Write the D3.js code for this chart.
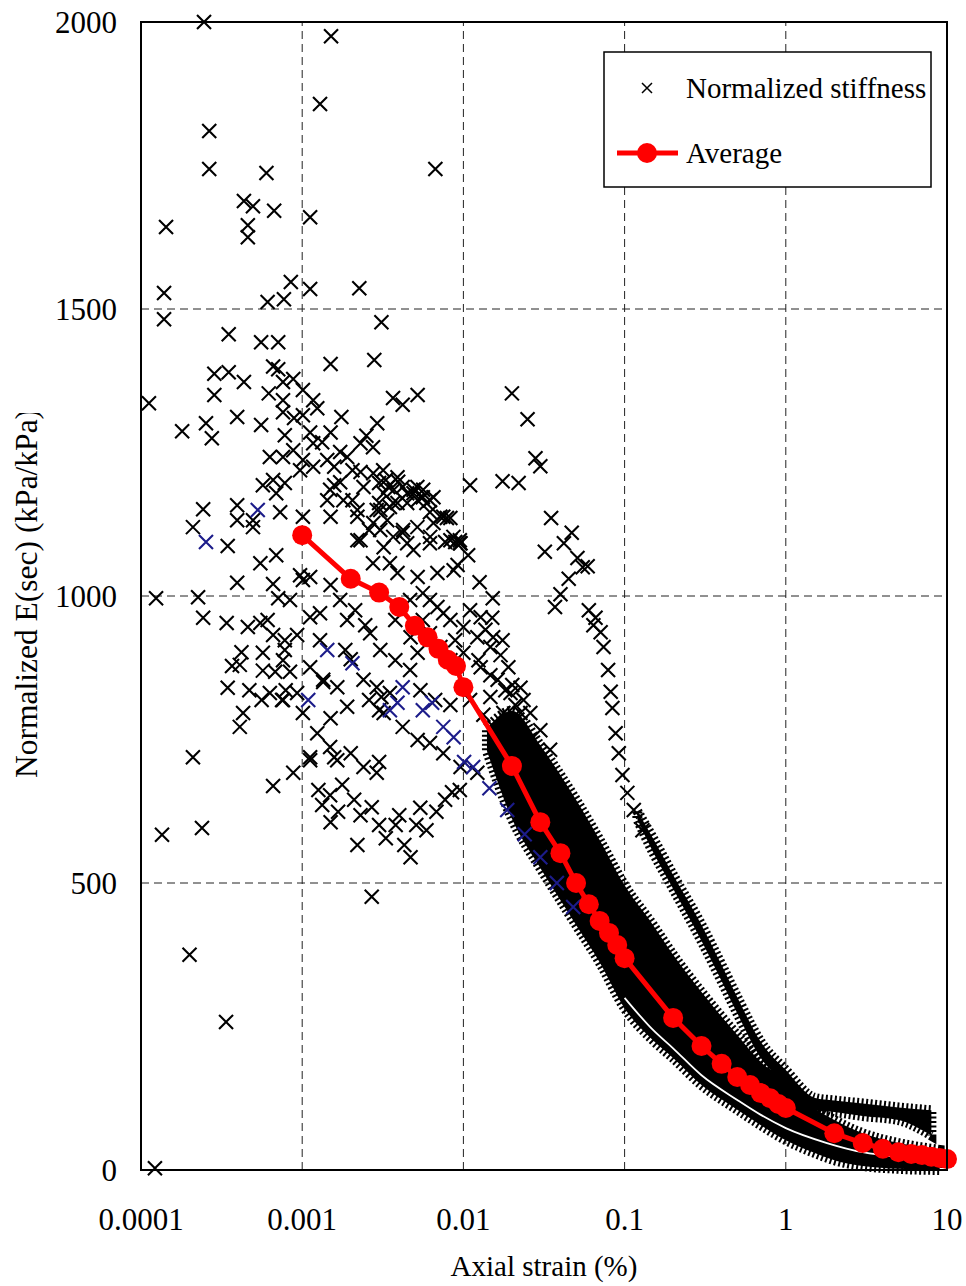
<!DOCTYPE html>
<html>
<head>
<meta charset="utf-8">
<script src="https://cdn.jsdelivr.net/npm/d3@7"></script>
<style>
  body { margin: 0; background: #fff; }
  text { font-family: "Liberation Serif", "Times New Roman", serif; fill: #000; }
</style>
</head>
<body>
<div id="chart"></div>
<script>
const width = 966, height = 1286;

// axis ticks
const xTicks = [0.0001, 0.001, 0.01, 0.1, 1, 10];
const xTickLabels = ["0.0001", "0.001", "0.01", "0.1", "1", "10"];
const yTicks = [0, 500, 1000, 1500, 2000];

// average curve (strain %, E)
const avgStrain = [0.001, 0.002, 0.003, 0.004, 0.005, 0.006, 0.007, 0.008, 0.009,
  0.01, 0.02, 0.03, 0.04, 0.05, 0.06, 0.07, 0.08, 0.09,
  0.1, 0.2, 0.3, 0.4, 0.5, 0.6, 0.7, 0.8, 0.9,
  1, 2, 3, 4, 5, 6, 7, 8, 9, 10];
const avgE = [1106, 1030, 1006, 981, 948, 928, 908, 889, 878,
  841, 704, 606, 552, 500, 463, 434, 413, 392,
  369, 265, 216, 185, 162, 148, 134, 125, 115,
  108, 64, 47, 37, 31, 28, 26, 23, 21, 19];

// scattered normalized stiffness points [strain %, E]
const cloudPts = [
  [2.46e-4, 2000], [0.00151, 1975], [0.00129, 1857], [2.65e-4, 1810], [2.65e-4, 1744],
  [6.0e-4, 1737], [0.0067, 1744], [4.35e-4, 1688], [4.95e-4, 1679], [6.7e-4, 1671],
  [0.00112, 1660], [1.43e-4, 1643], [4.6e-4, 1646], [4.6e-4, 1625], [8.5e-4, 1547],
  [1.39e-4, 1528], [6.1e-4, 1512], [7.7e-4, 1517], [0.00112, 1535], [0.00226, 1536],
  [1.39e-4, 1482], [0.0031, 1477], [3.5e-4, 1456], [5.56e-4, 1442], [7.1e-4, 1442],
  [0.0015, 1404], [0.0028, 1411], [2.85e-4, 1387], [3.5e-4, 1390], [4.35e-4, 1373],
  [6.6e-4, 1400], [7.1e-4, 1395], [6.2e-4, 1353], [7.6e-4, 1373], [8.8e-4, 1378],
  [0.00101, 1359], [7.6e-4, 1341], [0.00117, 1341], [1.12e-4, 1336], [2.85e-4, 1350],
  [0.00366, 1345], [0.0052, 1350], [0.0042, 1333], [7.6e-4, 1320], [0.00124, 1327],
  [8.9e-4, 1310], [0.00101, 1315], [3.95e-4, 1312], [2.53e-4, 1301], [5.56e-4, 1298],
  [0.00175, 1312], [0.00292, 1301], [1.8e-4, 1287], [2.75e-4, 1275], [7.8e-4, 1280],
  [0.00112, 1285], [0.0015, 1285], [0.0025, 1279], [0.00117, 1266], [0.00275, 1259],
  [0.0023, 1266], [6.3e-4, 1242], [7.6e-4, 1242], [8.8e-4, 1254], [0.00101, 1237],
  [0.00143, 1237], [0.00172, 1251], [0.0019, 1242], [0.00133, 1268], [9.7e-4, 1219],
  [0.00117, 1225], [0.00158, 1225], [0.00205, 1219], [0.0023, 1216], [0.0030, 1197],
  [0.0033, 1202], [0.0039, 1207], [0.0037, 1185], [0.0042, 1190], [0.0049, 1179],
  [0.0056, 1172], [0.0062, 1167], [0.0075, 1138], [0.0083, 1136], [0.0095, 1097],
  [5.7e-4, 1193], [6.6e-4, 1202], [7.8e-4, 1197], [6.9e-4, 1179], [0.00158, 1193],
  [0.00172, 1198], [0.00143, 1167], [0.00205, 1167], [0.0022, 1150], [0.0030, 1162],
  [0.0029, 1150], [0.0035, 1155], [0.0052, 1167], [0.0059, 1162], [0.0062, 1146],
  [2.43e-4, 1151], [3.95e-4, 1158], [3.95e-4, 1132], [4.95e-4, 1132], [7.3e-4, 1146],
  [0.00101, 1138], [0.0015, 1138], [0.0022, 1138], [2.1e-4, 1120], [4.95e-4, 1120],
  [3.45e-4, 1087], [5.5e-4, 1057], [6.9e-4, 1071], [3.95e-4, 1023], [6.6e-4, 1021],
  [1.24e-4, 996], [2.26e-4, 998], [7.1e-4, 996], [2.43e-4, 962], [3.4e-4, 953],
  [4.6e-4, 946], [5.5e-4, 953], [6.1e-4, 958], [0.00101, 1028], [0.00112, 1033],
  [0.0015, 1019], [6.6e-4, 932], [9.3e-4, 932], [0.00112, 963], [0.00129, 970],
  [0.0019, 958], [0.0023, 1097], [0.00275, 1057], [0.00264, 935], [5.7e-4, 901],
  [7.6e-4, 888], [4.1e-4, 880], [5.7e-4, 870], [8.4e-4, 868], [0.00135, 850],
  [0.0020, 890], [3.45e-4, 840], [6.3e-4, 831], [7.6e-4, 819], [0.0019, 807],
  [4.3e-4, 796], [4.1e-4, 772], [0.0015, 787], [0.0030, 801], [0.0031, 824],
  [2.1e-4, 719], [8.8e-4, 692], [0.00112, 714], [0.00158, 719], [0.0030, 711],
  [0.0079, 1136], [0.0077, 1094], [0.0089, 1094], [0.0096, 1092], [0.0092, 1054],
  [0.0107, 1071], [0.0110, 1193], [0.0126, 1024], [0.0152, 996], [0.0128, 963],
  [0.0151, 962], [0.0175, 923], [0.019, 876], [0.0226, 840], [0.0153, 928], [0.0201, 845],
  [0.00149, 1185], [0.0018, 1167], [0.0024, 1190], [0.0032, 1179], [0.0039, 1162],
  [0.0049, 1185], [0.0022, 1097], [0.0026, 1115], [0.0032, 1085], [0.0042, 1110],
  [0.0049, 1080], [0.0062, 1092], [0.0083, 1097], [0.0035, 1057], [0.0039, 1040],
  [0.0052, 1033], [0.0069, 1040], [0.0087, 1045], [0.0056, 1005], [0.0062, 993],
  [0.0069, 981], [0.0075, 970], [0.0083, 958], [0.0100, 946], [0.0122, 928],
  [0.0147, 911], [0.0056, 958], [0.0062, 935], [0.0072, 911], [0.0083, 888],
  [0.0100, 901], [0.0128, 876], [0.0163, 854], [0.0196, 831], [0.0226, 796],
  [0.0147, 824], [0.0177, 796], [0.0047, 928], [0.0052, 901], [0.0024, 854],
  [0.0029, 841], [0.0035, 831], [0.0026, 819], [0.0032, 796], [0.0042, 772],
  [0.0052, 749], [0.0062, 744], [0.0075, 726], [0.0096, 702], [0.0122, 692],
  [0.00112, 876], [0.00135, 854], [0.00165, 841], [9.3e-4, 831], [0.00101, 796],
  [0.00124, 761], [0.00149, 737], [0.00165, 714], [0.00112, 719], [0.0020, 726],
  [0.0024, 702], [0.0029, 692], [0.0163, 761], [0.0204, 772], [0.0236, 737],
  [0.0204, 719], [0.0236, 697], [0.00126, 662], [0.00149, 653], [0.00177, 671],
  [0.00133, 636], [0.00167, 624], [0.0021, 645], [0.0023, 618], [0.0027, 632],
  [0.003, 601], [0.0022, 566], [0.0033, 578], [0.0038, 601], [0.0043, 566],
  [0.0047, 545], [0.0051, 601], [0.0059, 592], [0.0068, 624], [0.0077, 645],
  [0.0085, 658], [0.0095, 662], [0.0027, 476], [0.0040, 618], [0.0054, 631],
  [0.0015, 606], [6.6e-4, 669], [7.8e-4, 906], [5.6e-4, 819], [7.9e-4, 836],
  [9.7e-4, 1036], [8.4e-4, 993], [7.8e-4, 923], [6.8e-4, 868], [7.5e-4, 819],
  [4.2e-4, 902], [4.7e-4, 836], [3.67e-4, 878], [1.35e-4, 584], [2.39e-4, 596],
  [2.0e-4, 375], [3.37e-4, 258], [1.22e-4, 3], [0.0236, 819], [0.026, 796],
  [0.030, 766], [0.0345, 732],
  [0.00276, 1214], [0.00318, 1219], [0.00342, 1190], [0.00394, 1199], [0.00448, 1179],
  [0.00518, 1190], [0.00563, 1185], [0.00652, 1172], [0.00448, 1162], [0.00367, 1162],
  [0.00305, 1150], [0.00276, 1127], [0.00337, 1132], [0.00423, 1115], [0.00518, 1120],
  [0.00652, 1127], [0.00719, 1138], [0.00867, 1103], [0.0095, 1092], [0.00622, 1103],
  [0.00448, 1092], [0.00367, 1103], [0.00305, 1115],
  [0.00172, 993], [0.00213, 975], [0.00246, 949], [0.00129, 923], [0.00185, 906],
  [0.00305, 906], [0.00378, 888], [0.00467, 871], [0.00541, 836], [0.00668, 819],
  [0.0083, 810], [0.00378, 958], [0.00467, 993], [0.0089, 923],
  [0.0110, 975], [0.0137, 941], [0.0170, 897], [0.0124, 888], [0.0147, 862],
  [0.0182, 836], [0.021, 810], [0.0110, 819], [0.0133, 793]
];

// the stiffer test that runs to the right of the main band
const secondTestPts = [
  [0.020, 1353], [0.025, 1308], [0.028, 1240], [0.030, 1226], [0.0175, 1200],
  [0.022, 1197], [0.035, 1136], [0.047, 1110], [0.042, 1092], [0.032, 1077],
  [0.051, 1066], [0.055, 1050], [0.059, 1052], [0.045, 1030], [0.040, 1003],
  [0.037, 981], [0.060, 975], [0.066, 962], [0.064, 949], [0.071, 937],
  [0.074, 911], [0.079, 871], [0.082, 833], [0.084, 805], [0.088, 761],
  [0.092, 726], [0.097, 688], [0.104, 657], [0.114, 627], [0.129, 592]
];

// points plotted in blue
const bluePts = [
  [5.3e-4, 1150], [2.53e-4, 1094], [0.00143, 906], [0.00205, 883], [0.00109, 819],
  [0.0042, 841], [0.0039, 814], [0.0035, 801], [0.0056, 801], [0.0064, 814],
  [0.0075, 772], [0.0087, 754], [0.0101, 711], [0.0115, 702], [0.0145, 665],
  [0.0187, 627], [0.024, 585], [0.030, 545], [0.038, 500], [0.048, 458]
];

// envelope of the dense main band of markers
const mainBandStrain = [0.014, 0.02, 0.03, 0.04, 0.05, 0.07, 0.1, 0.15, 0.2, 0.3, 0.5, 0.7, 1, 1.5, 2, 3, 5, 9];
const mainBandUpper = [770, 800, 740, 688, 645, 575, 496, 427, 375, 310, 235, 188, 157, 108, 87, 64, 47, 35];
const mainBandLower = [730, 612, 526, 470, 427, 362, 282, 226, 195, 148, 105, 78, 52, 30, 17, 7, 2, 0];

// envelope of the dense part of the stiffer test
const secondBandStrain = [0.12, 0.15, 0.2, 0.3, 0.4, 0.5, 0.7, 1, 1.5, 2, 3, 5, 8];
const secondBandUpper = [625, 578, 514, 427, 357, 301, 223, 174, 126, 121, 116, 109, 104];
const secondBandLower = [611, 554, 490, 399, 329, 273, 195, 150, 104, 101, 94, 87, 60];

// thin empty gap inside the lower part of the main band
const gapStrain = [0.1, 0.15, 0.2, 0.3, 0.5, 0.7, 1, 1.8, 3, 5];
const gapE = [300, 244, 212, 165, 122, 96, 73, 47, 31, 23];

const svg = d3.select("#chart").append("svg")
  .attr("width", width)
  .attr("height", height);

svg.append("rect").attr("width", width).attr("height", height).attr("fill", "#fff");

const x = d3.scaleLog().domain([1e-4, 10]).range([141, 947]);
const y = d3.scaleLinear().domain([0, 2000]).range([1170, 22]);

// grid
svg.append("g").selectAll("line")
  .data(xTicks.slice(1, -1))
  .join("line")
  .attr("x1", d => x(d)).attr("x2", d => x(d))
  .attr("y1", y(0)).attr("y2", y(2000))
  .attr("stroke", "#222").attr("stroke-width", 1)
  .attr("stroke-dasharray", "8 5");

svg.append("g").selectAll("line")
  .data(yTicks.slice(1, -1))
  .join("line")
  .attr("x1", x(1e-4)).attr("x2", x(10))
  .attr("y1", d => y(d)).attr("y2", d => y(d))
  .attr("stroke", "#222").attr("stroke-width", 1)
  .attr("stroke-dasharray", "8 5");

const xMark = s => `M${-s},${-s}L${s},${s}M${s},${-s}L${-s},${s}`;

function drawMarks(pts, color) {
  svg.append("g").selectAll("path")
    .data(pts)
    .join("path")
    .attr("transform", d => `translate(${x(d[0])},${y(d[1])})`)
    .attr("d", xMark(7))
    .attr("fill", "none")
    .attr("stroke", color)
    .attr("stroke-width", 2.1);
}

drawMarks(cloudPts, "#000");
drawMarks(secondTestPts, "#000");

// dense bands
const area = d3.area()
  .x(d => x(d.s))
  .y0(d => y(d.lo))
  .y1(d => y(d.hi))
  .curve(d3.curveMonotoneX);

const mainBand = mainBandStrain.map((s, i) => ({ s: s, hi: mainBandUpper[i], lo: mainBandLower[i] }));
const secondBand = secondBandStrain.map((s, i) => ({ s: s, hi: secondBandUpper[i], lo: secondBandLower[i] }));

[mainBand, secondBand].forEach(band => {
  svg.append("path")
    .datum(band)
    .attr("d", area)
    .attr("fill", "#000")
    .attr("stroke", "#000")
    .attr("stroke-width", 10)
    .attr("stroke-dasharray", "2 2.5");
});

svg.append("path")
  .datum(gapStrain.map((s, i) => [s, gapE[i]]))
  .attr("d", d3.line().x(d => x(d[0])).y(d => y(d[1])).curve(d3.curveMonotoneX))
  .attr("fill", "none")
  .attr("stroke", "#fff")
  .attr("stroke-width", 1.8);

drawMarks(bluePts, "#1c1c8a");

// average
const avg = avgStrain.map((s, i) => [s, avgE[i]]);
svg.append("path")
  .datum(avg)
  .attr("d", d3.line().x(d => x(d[0])).y(d => y(d[1])))
  .attr("fill", "none")
  .attr("stroke", "#ff0000")
  .attr("stroke-width", 5);

svg.append("g").selectAll("circle")
  .data(avg)
  .join("circle")
  .attr("cx", d => x(d[0]))
  .attr("cy", d => y(d[1]))
  .attr("r", 10)
  .attr("fill", "#ff0000");

// frame
svg.append("rect")
  .attr("x", x(1e-4)).attr("y", y(2000))
  .attr("width", x(10) - x(1e-4)).attr("height", y(0) - y(2000))
  .attr("fill", "none").attr("stroke", "#000").attr("stroke-width", 2);

// tick labels
svg.append("g").selectAll("text")
  .data(yTicks)
  .join("text")
  .attr("x", 117)
  .attr("y", d => y(d))
  .attr("dy", "0.35em")
  .attr("text-anchor", "end")
  .attr("font-size", 31)
  .text(d => d);

svg.append("g").selectAll("text")
  .data(xTicks)
  .join("text")
  .attr("x", d => x(d))
  .attr("y", 1230)
  .attr("text-anchor", "middle")
  .attr("font-size", 31)
  .text((d, i) => xTickLabels[i]);

// axis titles
svg.append("text")
  .attr("x", (x(1e-4) + x(10)) / 2)
  .attr("y", 1276)
  .attr("text-anchor", "middle")
  .attr("font-size", 29)
  .text("Axial strain (%)");

svg.append("clipPath").attr("id", "ytitle-clip")
  .append("rect").attr("x", 0).attr("y", 413).attr("width", 80).attr("height", 500);

svg.append("g").attr("clip-path", "url(#ytitle-clip)")
  .append("text")
  .attr("transform", "translate(37,778) rotate(-90)")
  .attr("text-anchor", "start")
  .attr("font-size", 31.5)
  .text("Normalized E(sec) (kPa/kPa)");

// legend
const legend = svg.append("g");
legend.append("rect")
  .attr("x", 604).attr("y", 52).attr("width", 327).attr("height", 135)
  .attr("fill", "#fff").attr("stroke", "#000").attr("stroke-width", 1.5);
legend.append("path")
  .attr("transform", "translate(647,88)")
  .attr("d", xMark(5))
  .attr("fill", "none").attr("stroke", "#000").attr("stroke-width", 1.5);
legend.append("text").attr("x", 686).attr("y", 98).attr("font-size", 29).text("Normalized stiffness");
legend.append("line")
  .attr("x1", 617).attr("x2", 678).attr("y1", 153).attr("y2", 153)
  .attr("stroke", "#ff0000").attr("stroke-width", 5);
legend.append("circle").attr("cx", 647).attr("cy", 153).attr("r", 10).attr("fill", "#ff0000");
legend.append("text").attr("x", 686).attr("y", 163).attr("font-size", 29).text("Average");
</script>
</body>
</html>
